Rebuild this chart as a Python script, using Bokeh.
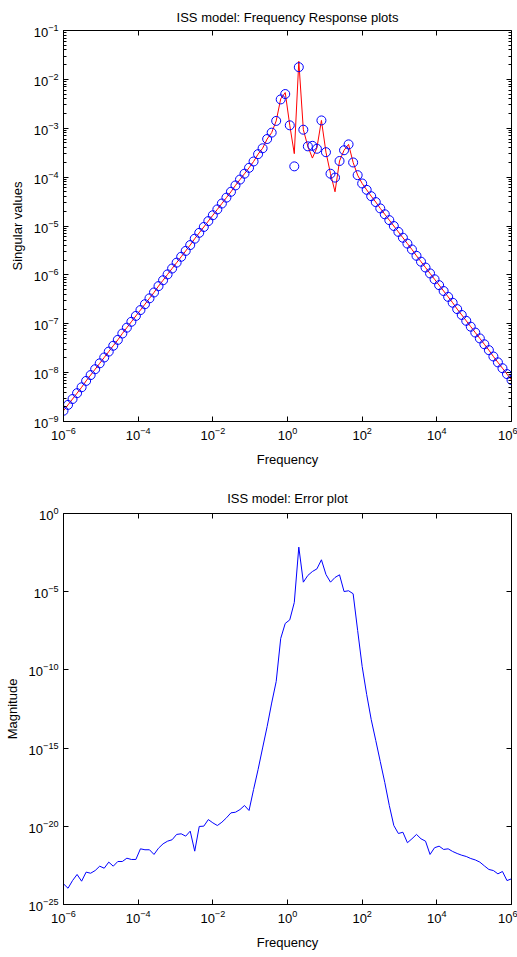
from bokeh.plotting import figure
from bokeh.models import LogAxis, FixedTicker, LogTickFormatter, CustomJSTickFormatter
from bokeh.layouts import column
from bokeh.embed import file_html
from bokeh.resources import INLINE

# Frequency grid (log10 of frequency)
freq_exp = [
    -6.000, -5.879, -5.758, -5.636, -5.515, -5.394, -5.273, -5.152, -5.030, -4.909,
    -4.788, -4.667, -4.545, -4.424, -4.303, -4.182, -4.061, -3.939, -3.818, -3.697,
    -3.576, -3.455, -3.333, -3.212, -3.091, -2.970, -2.848, -2.727, -2.606, -2.485,
    -2.364, -2.242, -2.121, -2.000, -1.879, -1.758, -1.636, -1.515, -1.394, -1.273,
    -1.152, -1.030, -0.909, -0.788, -0.667, -0.545, -0.424, -0.303, -0.182, -0.061,
    0.061, 0.182, 0.303, 0.424, 0.545, 0.667, 0.788, 0.909, 1.030, 1.152,
    1.273, 1.394, 1.515, 1.636, 1.758, 1.879, 2.000, 2.121, 2.242, 2.364,
    2.485, 2.606, 2.727, 2.848, 2.970, 3.091, 3.212, 3.333, 3.455, 3.576,
    3.697, 3.818, 3.939, 4.061, 4.182, 4.303, 4.424, 4.545, 4.667, 4.788,
    4.909, 5.030, 5.152, 5.273, 5.394, 5.515, 5.636, 5.758, 5.879, 6.000,
]

# Full model singular values (red line), log10
sv_full_exp = [
    -8.78, -8.66, -8.54, -8.42, -8.30, -8.17, -8.05, -7.93, -7.81, -7.69,
    -7.57, -7.45, -7.33, -7.20, -7.08, -6.96, -6.84, -6.72, -6.60, -6.48,
    -6.36, -6.23, -6.11, -5.99, -5.87, -5.75, -5.63, -5.51, -5.39, -5.26,
    -5.14, -5.02, -4.90, -4.78, -4.66, -4.54, -4.42, -4.30, -4.17, -4.05,
    -3.93, -3.81, -3.68, -3.53, -3.41, -3.22, -3.09, -2.85, -2.40, -2.27,
    -2.94, -3.52, -1.63, -3.03, -3.37, -3.61, -3.40, -2.84, -3.49, -3.93,
    -4.30, -3.67, -3.45, -3.33, -3.70, -3.96, -4.13, -4.26, -4.39, -4.51,
    -4.64, -4.76, -4.88, -5.00, -5.12, -5.24, -5.36, -5.48, -5.61, -5.73,
    -5.85, -5.97, -6.09, -6.21, -6.33, -6.45, -6.57, -6.70, -6.82, -6.94,
    -7.06, -7.18, -7.30, -7.42, -7.54, -7.67, -7.79, -7.91, -8.03, -8.15,
]

# Reduced model singular values (blue circles), log10
sv_red_exp = [
    -8.78, -8.66, -8.54, -8.42, -8.30, -8.17, -8.05, -7.93, -7.81, -7.69,
    -7.57, -7.45, -7.33, -7.20, -7.08, -6.96, -6.84, -6.72, -6.60, -6.48,
    -6.36, -6.23, -6.11, -5.99, -5.87, -5.75, -5.63, -5.51, -5.39, -5.26,
    -5.14, -5.02, -4.90, -4.78, -4.66, -4.54, -4.42, -4.30, -4.17, -4.05,
    -3.93, -3.81, -3.68, -3.53, -3.41, -3.22, -3.09, -2.85, -2.41, -2.30,
    -2.94, -3.78, -1.75, -3.03, -3.37, -3.36, -3.42, -2.84, -3.49, -3.93,
    -4.01, -3.67, -3.45, -3.33, -3.70, -3.96, -4.13, -4.26, -4.39, -4.51,
    -4.64, -4.76, -4.88, -5.00, -5.12, -5.24, -5.36, -5.48, -5.61, -5.73,
    -5.85, -5.97, -6.09, -6.21, -6.33, -6.45, -6.57, -6.70, -6.82, -6.94,
    -7.06, -7.18, -7.30, -7.42, -7.54, -7.67, -7.79, -7.91, -8.03, -8.15,
]

# Error magnitude, log10
err_exp = [
    -23.68, -23.96, -23.47, -23.08, -23.51, -22.93, -23.00, -22.83, -22.55, -22.68,
    -22.29, -22.55, -22.25, -22.25, -22.04, -22.12, -22.12, -21.44, -21.50, -21.50,
    -21.80, -21.40, -21.12, -20.95, -20.86, -20.52, -20.48, -20.63, -20.31, -21.59,
    -20.01, -19.99, -19.57, -19.78, -19.95, -19.74, -19.46, -19.14, -19.10, -18.93,
    -18.67, -18.99, -17.65, -16.37, -14.99, -13.62, -12.12, -10.74, -7.99, -7.03,
    -6.80, -5.69, -2.15, -4.39, -3.96, -3.71, -3.54, -2.96, -3.90, -4.39,
    -4.09, -3.92, -4.99, -4.94, -5.13, -7.48, -9.78, -11.57, -13.17, -14.51,
    -15.86, -17.20, -18.67, -19.95, -20.46, -20.38, -21.05, -20.80, -20.52, -20.80,
    -20.95, -21.80, -21.37, -21.27, -21.48, -21.44, -21.61, -21.74, -21.85, -21.93,
    -22.06, -22.15, -22.29, -22.53, -22.76, -22.83, -23.04, -22.89, -23.47, -23.36,
]

x_tick_exp = [-6, -4, -2, 0, 2, 4, 6]
top_y_tick_exp = [-9, -8, -7, -6, -5, -4, -3, -2, -1]
bot_y_tick_exp = [-25, -20, -15, -10, -5, 0]

freq = [10.0 ** e for e in freq_exp]
sv_full = [10.0 ** e for e in sv_full_exp]
sv_red = [10.0 ** e for e in sv_red_exp]
err = [10.0 ** e for e in err_exp]

FONT = "Liberation Sans"
x_major = [float("1e%d" % e) for e in x_tick_exp]
top_major = [float("1e%d" % e) for e in top_y_tick_exp]
top_minor = [m * float("1e%d" % e) for e in top_y_tick_exp[:-1] for m in range(2, 10)]
bot_major = [float("1e%d" % e) for e in bot_y_tick_exp]


def style_axis(ax, ticker, labels=True):
    ax.ticker = ticker
    ax.axis_line_color = "black"
    ax.major_tick_line_color = "black"
    ax.minor_tick_line_color = "black"
    ax.major_tick_in = 5
    ax.major_tick_out = 0
    ax.minor_tick_in = 3
    ax.minor_tick_out = 0
    ax.major_label_text_font = FONT
    ax.major_label_text_color = "black"
    ax.axis_label_text_font = FONT
    ax.axis_label_text_font_style = "normal"
    ax.axis_label_text_font_size = "13px"
    ax.axis_label_text_color = "black"
    if labels:
        ax.formatter = LogTickFormatter()
        ax.major_label_text_font_size = "13px"
        ax.major_label_standoff = 5
    else:
        ax.formatter = CustomJSTickFormatter(code="return ''")
        ax.major_label_text_font_size = "1px"
        ax.major_label_standoff = 0


def make_fig(title, ylabel, y_range, yticker, height, top, bottom, title_standoff):
    p = figure(width=517, height=height, x_axis_type="log", y_axis_type="log",
               x_range=(1e-6, 1e6), y_range=y_range,
               output_backend="svg", toolbar_location=None,
               min_border_left=63, min_border_right=6,
               min_border_top=top, min_border_bottom=bottom)
    p.title.text = title
    p.title.align = "center"
    p.title.text_font = FONT
    p.title.text_font_style = "normal"
    p.title.text_font_size = "13px"
    p.title.text_color = "black"
    p.title.standoff = title_standoff
    p.grid.visible = False
    p.outline_line_color = "black"
    p.outline_line_width = 1
    p.background_fill_color = "white"
    p.border_fill_color = "white"
    xt = FixedTicker(ticks=x_major, minor_ticks=[])
    style_axis(p.xaxis[0], xt)
    style_axis(p.yaxis[0], yticker)
    p.xaxis[0].axis_label = "Frequency"
    p.xaxis[0].axis_label_standoff = 9
    p.yaxis[0].axis_label = ylabel
    p.yaxis[0].axis_label_standoff = 6
    ax_top = LogAxis(fixed_location=y_range[1])
    style_axis(ax_top, FixedTicker(ticks=x_major, minor_ticks=[]), labels=False)
    p.add_layout(ax_top, "above")
    ax_right = LogAxis(fixed_location=1e6)
    style_axis(ax_right, FixedTicker(ticks=yticker.ticks, minor_ticks=yticker.minor_ticks), labels=False)
    p.add_layout(ax_right, "right")
    return p


p1 = make_fig("ISS model: Frequency Response plots", "Singular values", (1e-9, 1e-1),
              FixedTicker(ticks=top_major, minor_ticks=top_minor), 474, 30, 53, 12)
p1.line(freq, sv_full, line_color="#ff0000", line_width=1)
p1.scatter(freq, sv_red, marker="circle", size=9, fill_color=None,
           line_color="#0000ff", line_width=1)

p2 = make_fig("ISS model: Error plot", "Magnitude", (1e-25, 1e0),
              FixedTicker(ticks=bot_major, minor_ticks=[]), 482, 39, 52, 16)
p2.line(freq, err, line_color="#0000ff", line_width=1)

layout = column(p1, p2)
open("out.html", "w").write(file_html(layout, INLINE))
